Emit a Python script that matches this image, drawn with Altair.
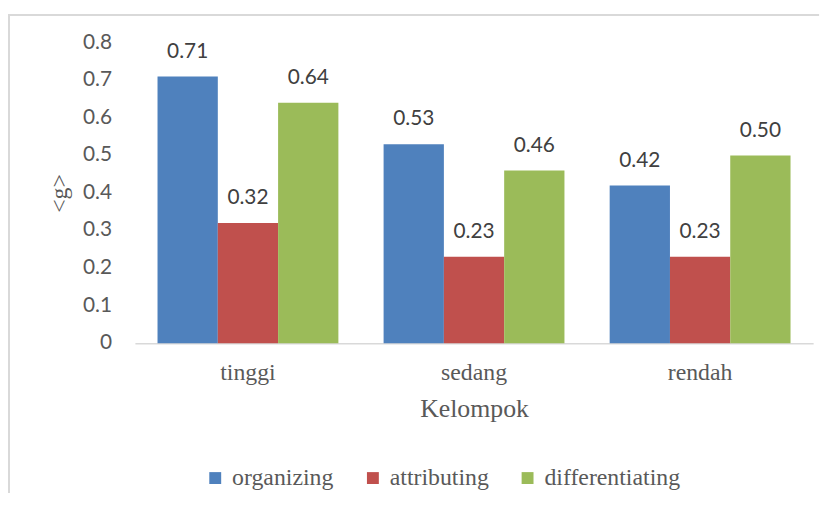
import altair as alt
import pandas as pd

categories = ["tinggi", "sedang", "rendah"]
series = ["organizing", "attributing", "differentiating"]
organizing = [0.71, 0.53, 0.42]
attributing = [0.32, 0.23, 0.23]
differentiating = [0.64, 0.46, 0.50]
colors = ["#4F81BD", "#C0504D", "#9BBB59"]
y_ticks = [0, 0.1, 0.2, 0.3, 0.4, 0.5, 0.6, 0.7, 0.8]
y_tick_labels = ["0", "0.1", "0.2", "0.3", "0.4", "0.5", "0.6", "0.7", "0.8"]

rows = []
for name, vals in zip(series, [organizing, attributing, differentiating]):
    for c, v in zip(categories, vals):
        rows.append({"Kelompok": c, "series": name, "g": v})
df = pd.DataFrame(rows)
ticks_df = pd.DataFrame({"g": y_ticks, "lab": y_tick_labels})
frame_df = pd.DataFrame({"k": [0]})

W, H = 684, 303

x = alt.X("Kelompok:N", sort=categories,
          scale=alt.Scale(paddingInner=0.2, paddingOuter=0.1),
          axis=alt.Axis(title="Kelompok", labelAngle=0, labelFont="Liberation Serif",
                        labelFontSize=24, labelColor="#595959", labelBaseline="alphabetic",
                        labelPadding=37, tickSize=0, ticks=False,
                        domainColor="#d9d9d9", domainWidth=1.5,
                        titleFont="Liberation Serif", titleFontSize=26, titleFontWeight="normal",
                        titleColor="#595959", titleY=74, titleBaseline="alphabetic"))
xo = alt.XOffset("series:N", sort=series, scale=alt.Scale(paddingInner=0, paddingOuter=0))
yscale = alt.Scale(domain=[0, 0.8], nice=False)
y = alt.Y("g:Q", scale=yscale,
          axis=alt.Axis(title="<g>", labels=False, tickSize=0, ticks=False,
                        domain=False, grid=False,
                        titleFont="Liberation Serif", titleFontSize=24, titleFontWeight="normal",
                        titleColor="#595959", titleAngle=-90, titleX=-76, titleY=H / 2,
                        titleAlign="center", titleBaseline="middle"))
color = alt.Color("series:N", sort=series,
                  scale=alt.Scale(domain=series, range=colors),
                  legend=alt.Legend(title=None, orient="none", direction="horizontal",
                                    legendX=69, legendY=427,
                                    labelFont="Liberation Serif", labelFontSize=24,
                                    labelColor="#595959", labelOffset=5, columnPadding=27,
                                    symbolType="square", symbolSize=144, symbolStrokeWidth=0))

bars = alt.Chart(df).mark_bar().encode(x=x, xOffset=xo, y=y, color=color)
labels = alt.Chart(df).mark_text(font="Lato", fontSize=21, color="#404040",
                                 baseline="alphabetic", dy=-19).encode(
    x=x, xOffset=xo, y=y, text=alt.Text("g:Q", format=".2f"))
tick_labels = alt.Chart(ticks_df).mark_text(font="Lato", fontSize=21, color="#595959",
                                            align="right", baseline="middle").encode(
    x=alt.value(-23), y=alt.Y("g:Q", scale=yscale), text="lab:N")

frame_left = alt.Chart(frame_df).mark_rule(color="#d9d9d9", strokeWidth=2).encode(
    x=alt.value(-127), y=alt.value(-29), y2=alt.value(460))
frame_top = alt.Chart(frame_df).mark_rule(color="#d9d9d9", strokeWidth=2).encode(
    y=alt.value(-28), x=alt.value(-128), x2=alt.value(690))

chart = alt.layer(frame_left, frame_top, bars, labels, tick_labels).properties(
    width=W, height=H,
    autosize=alt.AutoSizeParams(type="none"),
    padding={"left": 128, "top": 33, "right": 16, "bottom": 149},
).configure(font="Liberation Serif").configure_view(stroke=None).configure_legend(
    symbolType="square", symbolSize=144, symbolStrokeWidth=0,
    labelFont="Liberation Serif", labelFontSize=24, labelColor="#595959",
    labelOffset=5, columnPadding=27, padding=0, labelLimit=400,
)

chart.save("out.html", embed_options={"renderer": "svg", "actions": False})
